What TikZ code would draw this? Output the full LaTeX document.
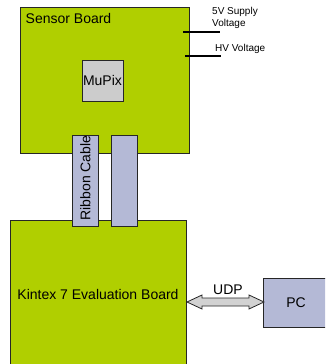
\documentclass[tikz,border=0pt]{standalone}
\usepackage{fontspec}
\setmainfont{Liberation Sans}
\usetikzlibrary{calc}
\begin{document}
\begin{tikzpicture}[x=1pt,y=-1pt,
  board/.style={draw=black!85, line width=0.8pt, fill=boardgreen},
  part/.style={draw=black!85, line width=0.8pt, fill=partblue},
  big/.style={font=\fontsize{14}{16}\selectfont, inner sep=0pt},
  small/.style={font=\fontsize{10}{12.5}\selectfont, inner sep=0pt, align=left},
  stub/.style={draw=black, line width=1.2pt}]
\definecolor{boardgreen}{RGB}{176,207,0}
\definecolor{partblue}{RGB}{180,185,214}
\definecolor{chipgray}{RGB}{204,204,204}
\definecolor{arrowgray}{RGB}{210,210,210}
\useasboundingbox (0,0) rectangle (325,364);
\begin{scope}
\clip (0,0) rectangle (325,364);
% sensor board
\draw[board] (20,7) rectangle (189,153);
\node[big, anchor=base west] (sbl) at (25.5,23.5) {Sensor Board};
\draw[draw=black!85, line width=0.8pt, fill=chipgray] (82,60) rectangle (123,101);
\node[big] (mupix) at (102.5,80.5) {MuPix};
% supply lines
\coordinate (s1a) at (183,32); \coordinate (s1b) at (220,32);
\coordinate (s2a) at (185,56); \coordinate (s2b) at (221,56);
\draw[stub] (s1a) -- (s1b);
\draw[stub] (s2a) -- (s2b);
\node[small, anchor=base west] (v5) at (212,26.5) {5V Supply\\Voltage};
\node[small, anchor=base west] (hv) at (215,51.5) {HV Voltage};
% kintex
\draw[board] (10,220) rectangle (186,372);
\node[big] (kin) at (98,294) {Kintex 7 Evaluation Board};
% cables
\draw[part] (72,135) rectangle (98,226);
\node[big, rotate=90] (rc) at (85.3,178) {Ribbon Cable};
\draw[part] (111,135) rectangle (137,226);
% PC
\draw[part] (263,278) rectangle (330,327);
\node[big] (pc) at (296,303) {PC};
% arrow
\coordinate (aL) at (187,302);
\coordinate (aR) at (264,302);
\draw[draw=black!85, line width=0.8pt, fill=arrowgray, line join=miter]
  (aL) -- ++(15,-7) -- ++(0,3) -- ($(aR)+(-15,-4)$) -- ++(0,-3) -- (aR)
  -- ++(-15,7) -- ++(0,-3) -- ($(aL)+(15,4)$) -- ++(0,3) -- cycle;
\node[big] (udp) at (228,290) {UDP};
\end{scope}
\end{tikzpicture}
\end{document}
